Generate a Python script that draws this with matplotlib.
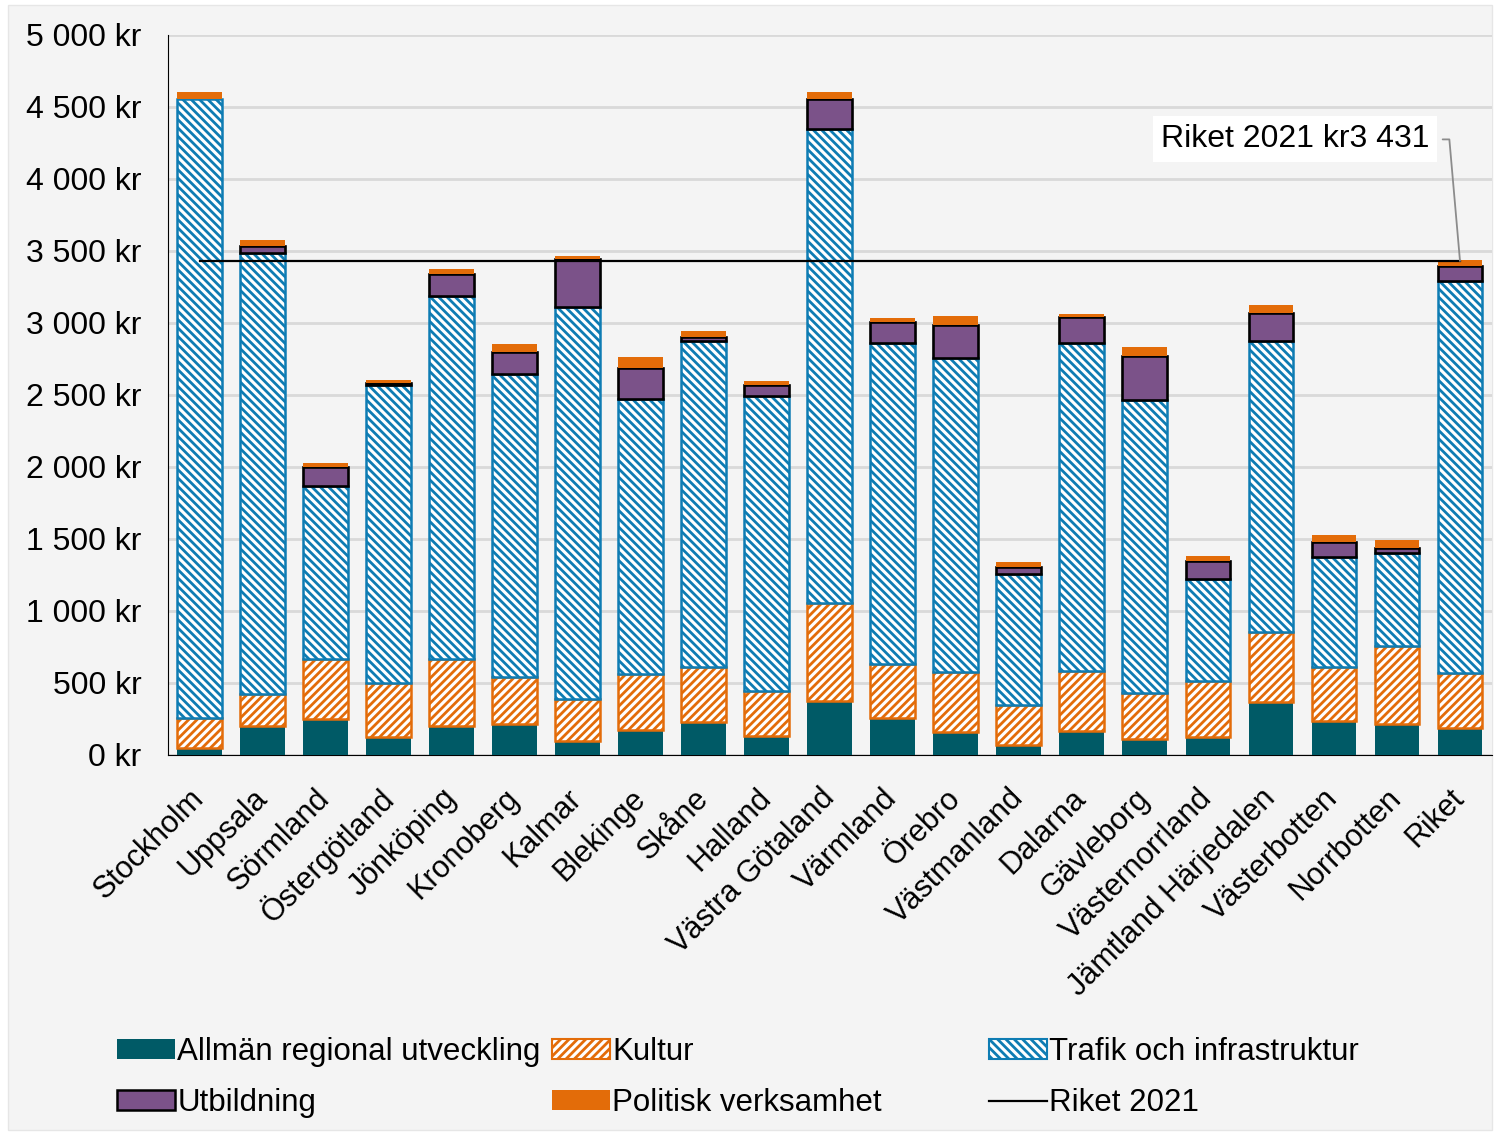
import matplotlib.pyplot as plt
import numpy as np
from matplotlib.patches import Patch, Rectangle
from matplotlib.lines import Line2D

plt.rcParams['font.family'] = ['Liberation Sans', 'DejaVu Sans']
plt.rcParams['hatch.linewidth'] = 2.0

# Regioner
regioner = ['Stockholm', 'Uppsala', 'Sörmland', 'Östergötland', 'Jönköping',
            'Kronoberg', 'Kalmar', 'Blekinge', 'Skåne', 'Halland',
            'Västra Götaland', 'Värmland', 'Örebro', 'Västmanland', 'Dalarna',
            'Gävleborg', 'Västernorrland', 'Jämtland Härjedalen', 'Västerbotten',
            'Norrbotten', 'Riket']

# kr per invånare
allman = [52, 202, 247, 122, 202, 214, 96, 177, 230, 133, 374, 258, 159, 68,
          168, 112, 124, 365, 233, 212, 186]
kultur = [206, 221, 419, 375, 464, 329, 292, 383, 383, 311, 679, 373, 419, 278,
          415, 316, 389, 491, 380, 547, 385]
trafik = [4300, 3064, 1203, 2073, 2520, 2105, 2724, 1914, 2260, 2046, 3292,
          2231, 2179, 909, 2279, 2034, 707, 2017, 760, 647, 2719]
utbildning = [0, 46, 128, 13, 151, 151, 329, 214, 30, 82, 213, 143, 232, 53,
              180, 311, 128, 197, 109, 34, 109]
politisk = [46, 42, 30, 23, 39, 58, 23, 73, 44, 28, 49, 32, 58, 33, 23, 61,
            34, 56, 46, 54, 37]
riket_2021 = 3431

c_allman = '#005a66'
c_orange = '#e36c09'
c_blue = '#0e7cb3'
c_purple = '#7b5289'

fig = plt.figure(figsize=(14.94, 11.33), dpi=100, facecolor='white')
fig.patches.append(Rectangle((8 / 1494, 3 / 1133), 1484 / 1494, 1125 / 1133,
                             transform=fig.transFigure, facecolor='#f4f4f4',
                             edgecolor='#e6e6e6', lw=1, zorder=-10))
ax = fig.add_axes([168 / 1494, 378 / 1133, 1323.5 / 1494, 720 / 1133])
ax.set_facecolor('#f4f4f4')

x = np.arange(len(regioner))
w = 0.71
b = np.zeros(len(regioner))

ax.bar(x, allman, w, bottom=b, color=c_allman, lw=0, zorder=3)
b += allman
ax.bar(x, kultur, w, bottom=b, color='white', edgecolor=c_orange, hatch='////',
       lw=1.8, zorder=3)
b += kultur
ax.bar(x, trafik, w, bottom=b, color='white', edgecolor=c_blue,
       hatch='\\\\\\\\', lw=1.8, zorder=3)
b += trafik
ax.bar(x, utbildning, w, bottom=b, color=c_purple,
       edgecolor=['none' if u == 0 else 'black' for u in utbildning],
       lw=1.9, zorder=3)
b += utbildning
ax.bar(x, politisk, w, bottom=b, color=c_orange, lw=0, zorder=3)

ax.plot([x[0], x[-1]], [riket_2021, riket_2021], color='black', lw=1.6, zorder=4)

ax.annotate('Riket 2021 kr3 431', xy=(x[-1], riket_2021), xytext=(17.38, 4275),
            ha='center', va='center', fontsize=23,
            bbox=dict(boxstyle='square,pad=0.25', fc='white', ec='none'),
            arrowprops=dict(arrowstyle='-', color='#8c8c8c', lw=1.3,
                            relpos=(1, 0.5), shrinkA=4, shrinkB=0,
                            connectionstyle='angle,angleA=0,angleB=95,rad=0'),
            zorder=5)

ax.set_xlim(-0.5, len(regioner) - 0.5)
ax.set_ylim(0, 5000)
ax.set_yticks(np.arange(0, 5001, 500))
ax.set_yticklabels([f'{v:,} kr'.replace(',', ' ') for v in range(0, 5001, 500)],
                   fontsize=23)
ax.set_xticks(x)
ax.set_xticklabels(regioner, rotation=45, ha='right', va='center',
                   rotation_mode='anchor', fontsize=22)
ax.tick_params(axis='y', length=0, pad=19)
ax.tick_params(axis='x', length=0, pad=28)
ax.grid(axis='y', color='#d9d9d9', lw=2, zorder=0)
ax.set_axisbelow(True)
for s in ['top', 'right']:
    ax.spines[s].set_visible(False)
ax.spines['left'].set_color('black')
ax.spines['bottom'].set_color('black')

# Teckenförklaring, tre kolumner
kolumner = [
    ([Patch(fc=c_allman, ec='none'),
      Patch(fc=c_purple, ec='black', lw=1.8)],
     ['Allmän regional utveckling', 'Utbildning'], 117),
    ([Patch(fc='white', ec=c_orange, hatch='////', lw=1.5),
      Patch(fc=c_orange, ec='none')],
     ['Kultur', 'Politisk verksamhet'], 552),
    ([Patch(fc='white', ec=c_blue, hatch='\\\\\\\\', lw=1.5),
      Line2D([0], [0], color='black', lw=1.6)],
     ['Trafik och infrastruktur', 'Riket 2021'], 989),
]
for handles, labels, xpos in kolumner:
    fig.legend(handles, labels, loc='upper left',
               bbox_to_anchor=(xpos / 1494, 1 - 1037 / 1133),
               frameon=False, fontsize=22.5, handlelength=1.85, handleheight=0.6,
               handletextpad=0.08, labelspacing=0.68, borderpad=0, borderaxespad=0)

fig.savefig('out.png', dpi=100, facecolor=fig.get_facecolor())
